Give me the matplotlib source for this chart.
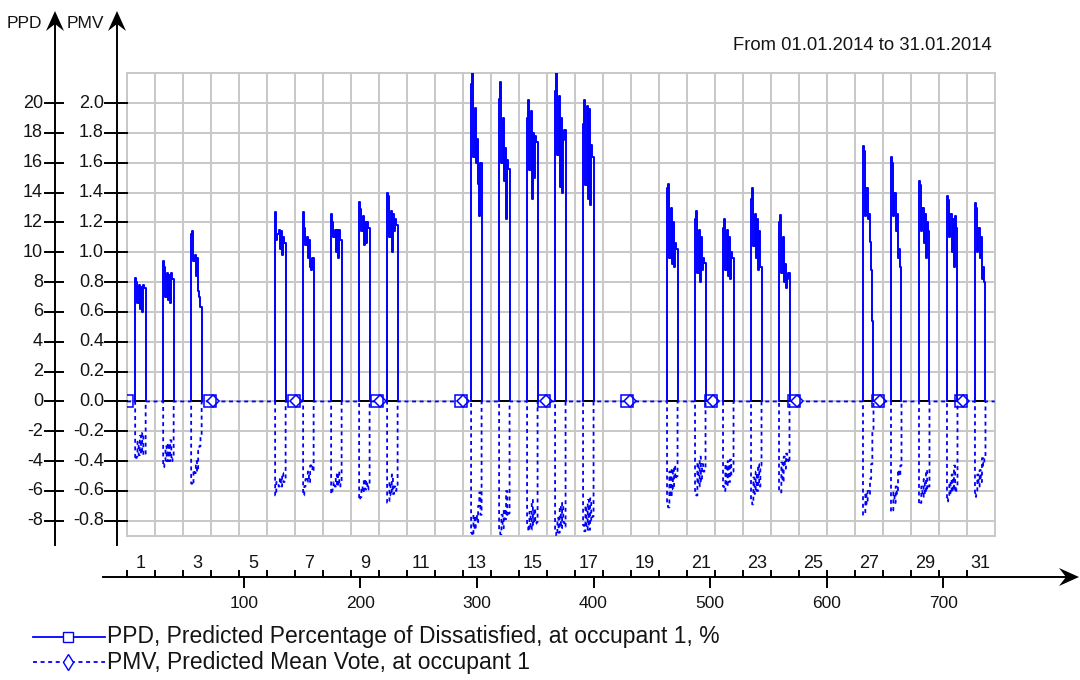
import numpy as np
import matplotlib
matplotlib.use("Agg")
import matplotlib.pyplot as plt
from matplotlib.lines import Line2D
from matplotlib.patches import Polygon
from matplotlib.transforms import blended_transform_factory

plt.rcParams['font.family'] = ['Liberation Sans', 'DejaVu Sans']

# ---- data (hourly, January 2014) ----
n_hours = 744
occ_start = 7          # first occupied hour of a working day
occ_len = 9            # occupied hours per day
work_days = [1, 2, 3, 6, 7, 8, 9, 10, 13, 14, 15, 16, 17,
             20, 21, 22, 23, 24, 27, 28, 29, 30, 31]

# PPD in %, one list per working day (hours 7..15)
ppd_by_day = [
    [8.3, 8.0, 6.6, 7.8, 6.2, 7.7, 6.0, 7.8, 7.6],
    [9.4, 9.0, 7.0, 8.6, 6.8, 8.5, 6.6, 8.6, 8.2],
    [11.2, 11.4, 9.4, 9.8, 8.4, 9.6, 7.4, 7.0, 6.3],
    [12.7, 10.8, 11.2, 11.5, 10.2, 11.4, 9.8, 11.0, 10.6],
    [12.7, 11.6, 10.5, 11.0, 9.6, 10.8, 9.0, 8.8, 9.6],
    [12.6, 12.0, 11.0, 11.5, 10.0, 11.5, 9.6, 11.5, 10.8],
    [13.4, 12.9, 11.4, 12.4, 10.5, 12.0, 10.6, 12.0, 11.6],
    [14.0, 13.8, 11.0, 12.8, 10.0, 12.6, 11.4, 12.2, 11.8],
    [21.3, 22.0, 16.4, 19.7, 16.0, 17.6, 14.6, 12.4, 16.0],
    [20.3, 21.4, 16.0, 19.0, 14.8, 17.0, 12.2, 16.2, 15.6],
    [19.0, 20.2, 15.5, 19.5, 13.6, 18.0, 15.0, 17.8, 17.4],
    [20.8, 22.1, 16.5, 20.5, 14.4, 19.0, 14.0, 17.5, 18.2],
    [18.6, 20.2, 14.5, 19.8, 13.6, 19.6, 13.2, 17.2, 16.4],
    [14.3, 14.6, 9.6, 13.0, 9.2, 12.0, 9.0, 10.6, 10.2],
    [12.2, 12.8, 8.6, 11.5, 8.0, 11.0, 8.8, 9.6, 9.3],
    [11.6, 12.2, 8.8, 11.5, 8.4, 11.0, 8.2, 10.0, 9.6],
    [13.6, 14.3, 10.4, 12.6, 9.6, 12.2, 8.8, 11.4, 9.0],
    [12.0, 12.5, 8.6, 11.0, 8.0, 9.2, 7.6, 8.2, 8.6],
    [17.1, 16.8, 12.4, 14.3, 12.2, 12.6, 10.7, 8.8, 5.4],
    [16.4, 16.0, 12.4, 14.0, 11.4, 12.6, 9.6, 10.2, 9.0],
    [14.8, 14.5, 11.4, 13.0, 10.6, 12.6, 9.6, 12.0, 11.4],
    [13.8, 13.5, 11.0, 12.6, 10.0, 12.2, 9.0, 12.4, 11.6],
    [13.3, 13.0, 10.0, 11.6, 9.6, 11.0, 8.2, 9.0, 8.0],
]

# PMV, one list per working day (hours 7..15)
pmv_by_day = [
    [-0.39, -0.37, -0.27, -0.36, -0.23, -0.35, -0.21, -0.36, -0.35],
    [-0.44, -0.42, -0.30, -0.40, -0.28, -0.40, -0.26, -0.40, -0.38],
    [-0.55, -0.56, -0.46, -0.48, -0.40, -0.47, -0.33, -0.30, -0.23],
    [-0.63, -0.54, -0.56, -0.57, -0.51, -0.57, -0.48, -0.54, -0.52],
    [-0.63, -0.57, -0.52, -0.54, -0.47, -0.54, -0.43, -0.42, -0.47],
    [-0.62, -0.59, -0.54, -0.57, -0.49, -0.57, -0.47, -0.57, -0.54],
    [-0.66, -0.64, -0.57, -0.61, -0.52, -0.59, -0.53, -0.59, -0.57],
    [-0.68, -0.67, -0.54, -0.63, -0.49, -0.62, -0.57, -0.60, -0.58],
    [-0.88, -0.90, -0.76, -0.86, -0.76, -0.81, -0.70, -0.61, -0.76],
    [-0.86, -0.89, -0.76, -0.85, -0.72, -0.79, -0.60, -0.77, -0.75],
    [-0.84, -0.87, -0.74, -0.86, -0.66, -0.83, -0.72, -0.82, -0.81],
    [-0.87, -0.90, -0.78, -0.88, -0.70, -0.85, -0.68, -0.81, -0.84],
    [-0.83, -0.87, -0.70, -0.86, -0.66, -0.86, -0.65, -0.80, -0.77],
    [-0.70, -0.71, -0.47, -0.64, -0.45, -0.59, -0.43, -0.52, -0.50],
    [-0.60, -0.63, -0.41, -0.57, -0.37, -0.54, -0.42, -0.47, -0.45],
    [-0.57, -0.60, -0.42, -0.57, -0.40, -0.54, -0.39, -0.49, -0.47],
    [-0.67, -0.69, -0.51, -0.62, -0.47, -0.60, -0.42, -0.57, -0.43],
    [-0.59, -0.61, -0.41, -0.54, -0.37, -0.45, -0.35, -0.39, -0.41],
    [-0.76, -0.75, -0.61, -0.69, -0.60, -0.62, -0.52, -0.42, -0.20],
    [-0.74, -0.73, -0.61, -0.68, -0.57, -0.62, -0.46, -0.50, -0.43],
    [-0.69, -0.68, -0.57, -0.64, -0.52, -0.62, -0.46, -0.59, -0.57],
    [-0.67, -0.65, -0.54, -0.62, -0.49, -0.60, -0.43, -0.61, -0.58],
    [-0.64, -0.62, -0.49, -0.57, -0.46, -0.54, -0.38, -0.43, -0.37],
]

ppd_ticks = list(range(-8, 21, 2))
pmv_ticks = [v / 10 for v in ppd_ticks]
day_labels = list(range(1, 32, 2))
hour_labels = [100, 200, 300, 400, 500, 600, 700]
title = 'From 01.01.2014 to 31.01.2014'
ppd_name = 'PPD, Predicted Percentage of Dissatisfied, at occupant 1, %'
pmv_name = 'PMV, Predicted Mean Vote, at occupant 1'

# build hourly series
hours = np.arange(n_hours + 1)
ppd = np.zeros(n_hours + 1)
pmv = np.zeros(n_hours + 1)
starts = []
for d, pv, mv in zip(work_days, ppd_by_day, pmv_by_day):
    t0 = (d - 1) * 24 + occ_start
    ppd[t0:t0 + occ_len] = pv
    pmv[t0:t0 + occ_len] = mv
    starts.append(t0)
starts = np.array(starts)

# ppd drawn only over occupied periods, as steps from zero and back
px, py = [], []
for t0 in starts:
    px.extend(np.repeat(hours[t0:t0 + occ_len + 1], 2))
    py.extend(np.concatenate([[0], np.repeat(ppd[t0:t0 + occ_len], 2), [0]]))
    px.append(np.nan)
    py.append(np.nan)

# ---- figure ----
W, H = 1080, 680
fig = plt.figure(figsize=(W / 100, H / 100), dpi=100)
fx = lambda p: p / W
fy = lambda p: 1 - p / H

blue = '#0000ff'
gridc = '#c8c8c8'
txtc = '#141414'
fs = 13

left, right, top, bottom = 127, 994.8, 73.3, 535.7
ax = fig.add_axes([fx(left), fy(bottom), fx(right - left), (bottom - top) / H])
ax.set_xlim(0, n_hours)
ax.set_ylim(-9, 22)
ax.set_xticks(np.arange(0, n_hours + 1, 24))
ax.set_yticks(ppd_ticks)
ax.grid(True, color=gridc, lw=1.4)
ax.tick_params(length=0, labelbottom=False, labelleft=False)
for s in ax.spines.values():
    s.set_color(gridc)
    s.set_linewidth(1.4)

ax.hlines(np.zeros(len(starts)), starts, starts + occ_len, color='black', lw=1.4, zorder=2)
ax.plot(px, py, color=blue, lw=1.4, zorder=3)

ax2 = ax.twinx()
ax2.set_ylim(-0.9, 2.2)
ax2.set_yticks([])
for s in ax2.spines.values():
    s.set_visible(False)
ax2.plot(hours, pmv, color=blue, lw=1.3, ls='--', dashes=(2.2, 2.0),
         drawstyle='steps-post', zorder=3)

mark_step = 71.5
mark_hours = np.arange(0, n_hours, mark_step)
ax2.plot(mark_hours[1:] + 2, np.interp(mark_hours[1:] + 2, hours, pmv), ls='none',
         marker='D', ms=6, mfc='white', mec=blue, mew=1.1, zorder=4)
ax2.plot(mark_hours, np.interp(mark_hours, hours, ppd) / 10, ls='none',
         marker='s', ms=8, mfc='none', mec=blue, mew=1.1, zorder=5)

# ---- axis arrows ----
def arrow_head(tip, direction):
    # stealth-like head drawn in pixel units, tip=(x, y) in image pixels
    x, y = tip
    L, Wd, N = 20, 9, 13
    if direction == 'up':
        pts = [(x, y), (x + Wd, y + L), (x, y + N), (x - Wd, y + L)]
    else:
        pts = [(x, y), (x - L, y - Wd), (x - N, y), (x - L, y + Wd)]
    fig.add_artist(Polygon([(fx(a), fy(b)) for a, b in pts], closed=True,
                           transform=fig.transFigure, color='black', lw=0))

def axis_line(p0, p1):
    fig.add_artist(Line2D([fx(p0[0]), fx(p1[0])], [fy(p0[1]), fy(p1[1])],
                          transform=fig.transFigure, color='black', lw=1.4))

axis_line((55, 545), (55, 24))
arrow_head((55, 11), 'up')
axis_line((117, 545), (117, 24))
arrow_head((117, 11), 'up')
fig.text(fx(42), fy(24), 'PPD', ha='right', va='center', fontsize=fs - 0.5, color=txtc)
fig.text(fx(104), fy(24), 'PMV', ha='right', va='center', fontsize=fs - 0.5, color=txtc)

ty1 = blended_transform_factory(fig.transFigure, ax.transData)
ty2 = blended_transform_factory(fig.transFigure, ax2.transData)
for v in ppd_ticks:
    fig.add_artist(Line2D([fx(45), fx(63)], [v, v], transform=ty1, color='black', lw=1.4))
    fig.text(fx(43), v, f'{v}', transform=ty1, ha='right', va='center',
             fontsize=fs, color=txtc)
for v in pmv_ticks:
    fig.add_artist(Line2D([fx(105), fx(127)], [v, v], transform=ty2, color='black', lw=1.4))
    fig.text(fx(104), v, f'{v:.1f}', transform=ty2, ha='right', va='center',
             fontsize=fs, color=txtc)

# ---- bottom time axis ----
axis_line((103, 577), (1066, 577))
arrow_head((1079, 577), 'right')
tx = blended_transform_factory(ax.transData, fig.transFigure)
for h in range(0, n_hours, 24):
    fig.add_artist(Line2D([h, h], [fy(571), fy(577)], transform=tx, color='black', lw=1.4))
for d in day_labels:
    fig.text((d - 1) * 24 + 12, fy(563), str(d), transform=tx, ha='center',
             va='center', fontsize=fs, color=txtc)
for h in hour_labels:
    fig.add_artist(Line2D([h, h], [fy(577), fy(587)], transform=tx, color='black', lw=1.4))
    fig.text(h, fy(603), str(h), transform=tx, ha='center', va='center',
             fontsize=fs - 0.5, color=txtc)

fig.text(fx(992), fy(46), title, ha='right', va='center', fontsize=13.3, color=txtc)

# ---- legend ----
fig.add_artist(Line2D([fx(33), fx(68), fx(105)], [fy(637)] * 3, color=blue, lw=1.3,
                      marker='s', markevery=[1], ms=7, mfc='white', mec=blue))
fig.add_artist(Line2D([fx(33), fx(68), fx(105)], [fy(662)] * 3, color=blue, lw=1.3,
                      ls='--', dashes=(2.2, 2.0), marker='d', markevery=[1], ms=8,
                      mfc='white', mec=blue))
fig.text(fx(107), fy(637), ppd_name, ha='left', va='center', fontsize=16.5, color=txtc)
fig.text(fx(107), fy(662), pmv_name, ha='left', va='center', fontsize=16.5, color=txtc)

fig.savefig('out.png', dpi=100)
